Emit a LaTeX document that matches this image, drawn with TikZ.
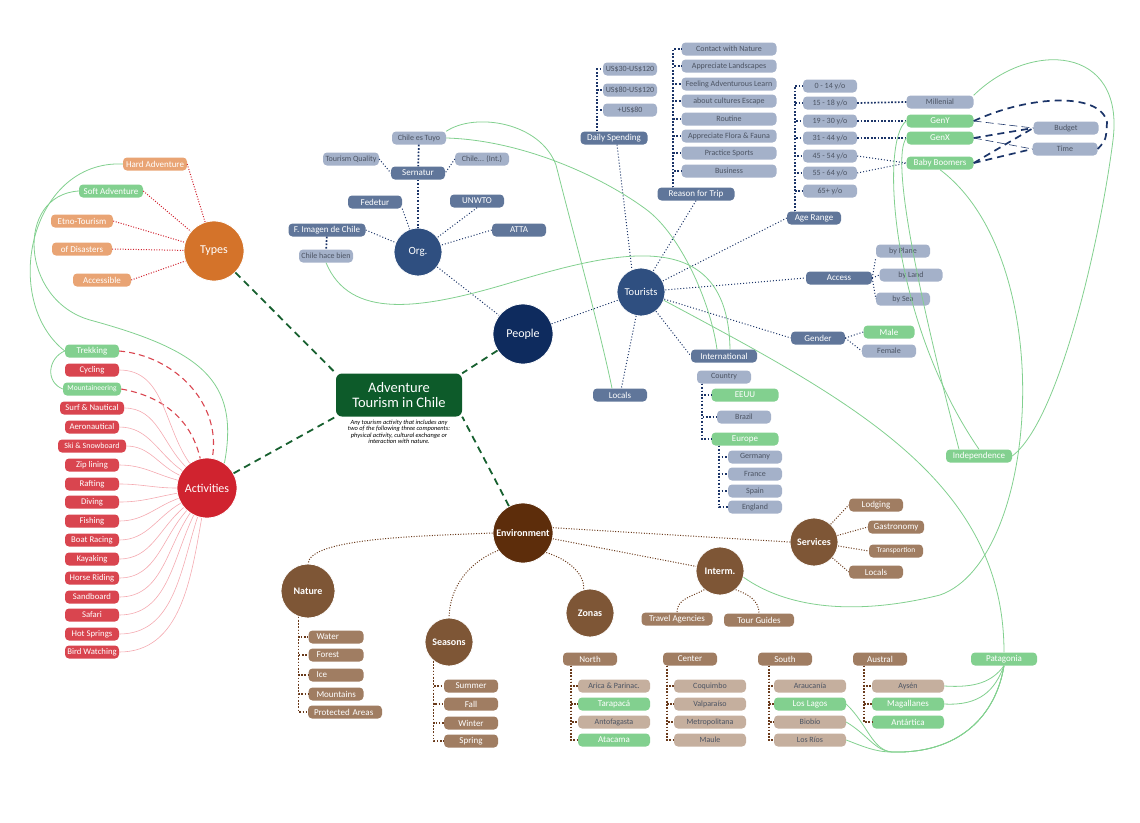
\documentclass[tikz,border=0pt]{standalone}
\usepackage{fontspec}
\setmainfont{Carlito}
\usetikzlibrary{positioning}
\definecolor{forest}{HTML}{0D5B2A}
\definecolor{trunkc}{HTML}{17602F}
\definecolor{tangerine}{HTML}{D4732A}
\definecolor{apricot}{HTML}{E9A474}
\definecolor{leaf}{HTML}{82D08F}
\definecolor{crimson}{HTML}{D0232F}
\definecolor{rose}{HTML}{D9454F}
\definecolor{blush}{HTML}{F4AAB1}
\definecolor{steel}{HTML}{2F4F80}
\definecolor{midnight}{HTML}{0E2B5E}
\definecolor{slate}{HTML}{60769A}
\definecolor{mist}{HTML}{A4B1C9}
\definecolor{navy}{HTML}{1B3468}
\definecolor{ink}{HTML}{4C5463}
\definecolor{umber}{HTML}{5D2D0B}
\definecolor{cocoa}{HTML}{7E5636}
\definecolor{bark}{HTML}{A07D62}
\definecolor{sand}{HTML}{C5AF9E}
\definecolor{mud}{HTML}{6A3A1B}
\newcommand{\fsz}[1]{\fontsize{#1}{#1}\selectfont}
\tikzset{
  hub/.style  ={circle, draw=white, line width=.8pt, text=white, inner sep=0pt, font=\fsz{12}},
  pill/.style ={rounded corners=4pt, minimum width=54pt, minimum height=13pt, inner sep=1pt, text=white, font=\fsz{9}},
  pmid/.style ={pill, fill=slate},
  plite/.style={pill, fill=mist, text=ink, font=\fsz{8}},
  pleaf/.style={pill, fill=leaf},
  papr/.style ={pill, fill=apricot},
  prose/.style={pill, fill=rose, font=\fsz{8.7}},
  pbark/.style={pill, fill=bark},
  pbl/.style  ={pbark, align=left, inner xsep=8pt, text width=39pt},
  psand/.style={pill, fill=sand, text=ink, font=\fsz{8}, minimum width=72pt},
  core/.style ={rounded corners=6pt, fill=forest, text=white, minimum width=126pt, minimum height=43pt, align=center, font=\fsz{14.5}},
  desc/.style ={align=center, font=\fsz{6.4}\itshape, inner sep=0pt, text=black},
  trunk/.style={draw=trunkc, line width=1.8pt, dash pattern=on 7pt off 5pt},
  dn/.style   ={draw=navy, line width=1pt, dash pattern=on 1pt off 2pt},
  dnb/.style  ={draw=navy, line width=1.7pt, dash pattern=on 1.7pt off 1.7pt},
  dr/.style   ={draw=crimson, line width=1pt, dash pattern=on 1pt off 1.6pt},
  lr/.style   ={draw=blush, line width=.6pt},
  lrd/.style  ={draw=rose, line width=1.1pt, dash pattern=on 6pt off 4pt},
  db/.style   ={draw=mud, line width=1pt, dash pattern=on 1pt off 1.6pt},
  dbb/.style  ={draw=mud, line width=1.6pt, dash pattern=on 1.6pt off 1.6pt},
  gl/.style   ={draw=leaf, line width=.8pt},
  ldb/.style  ={draw=navy, line width=1.7pt, dash pattern=on 7pt off 5pt},
  ldt/.style  ={draw=navy, line width=.6pt, dash pattern=on 8pt off 4pt},
}

\begin{document}
\begin{tikzpicture}[x=1pt,y=-1pt]
  \useasboundingbox (0,0) rectangle (1140,822);

  % centre
  \node[core] (core) at (399,395) {Adventure\\Tourism in Chile};
  \node[desc,below=3pt of core] (desc) {Any tourism activity that includes any\\ two of the following three components:\\ physical activity, cultural exchange or\\ interaction with nature.};

  % hubs
  \node[hub,fill=tangerine,minimum size=60pt] (types) at (214,251) {Types};
  \node[hub,fill=crimson,minimum size=60pt] (act) at (207,488) {Activities};
  \node[hub,fill=steel,minimum size=48pt,font=\fsz{11}] (org) at (418,252) {Org.};
  \node[hub,fill=midnight,minimum size=60pt] (ppl) at (523,334) {People};
  \node[hub,fill=steel,minimum size=48pt,font=\fsz{10.5}] (tour) at (641,292) {Tourists};
  \node[hub,fill=umber,minimum size=60pt,font=\fsz{10}\bfseries] (env) at (523,533) {Environment};
  \node[hub,fill=cocoa,minimum size=54pt,font=\fsz{10}\bfseries] (nat) at (308,591) {Nature};
  \node[hub,fill=cocoa,minimum size=48pt,font=\fsz{10}\bfseries] (sea) at (449,642) {Seasons};
  \node[hub,fill=cocoa,minimum size=48pt,font=\fsz{10}\bfseries] (zon) at (590,613) {Zonas};
  \node[hub,fill=cocoa,minimum size=48pt,font=\fsz{10}\bfseries] (itm) at (720,571) {Interm.};
  \node[hub,fill=cocoa,minimum size=48pt,font=\fsz{10}\bfseries] (svc) at (814,542) {Services};

  \draw[trunk] (types) -- (core.north west);
  \draw[trunk] (act) -- (core.south west);
  \draw[trunk] (ppl) -- (core.north east);
  \draw[trunk] (env) -- (core.south east);

  % types
  \node[papr,minimum width=64pt] (hard) at (155,164) {Hard Adventure};
  \node[pleaf,minimum width=64pt] (soft) at (111,191) {Soft Adventure};
  \node[papr,minimum width=62pt] (etno) at (82,221) {Etno-Tourism};
  \node[papr,minimum width=60pt] (disa) at (82,249) {of Disasters};
  \node[papr,minimum width=58pt] (acce) at (102,280) {Accessible};
  \draw[dr] (hard.east) -- (types);
  \draw[dr] (soft.east) -- (types);
  \draw[dr] (etno.east) -- (types);
  \draw[dr] (disa.east) -- (types);
  \draw[dr] (acce.east) -- (types);

  % activities
  \node[pleaf] (trek) at (92,351) {Trekking};
  \node[prose] (cycl) at (92,370) {Cycling};
  \node[pleaf,minimum width=58pt,font=\fsz{7.5}] (mnt) at (92,389) {Mountaineering};
  \node[prose,minimum width=64pt] (surf) at (92,408) {Surf \& Nautical};
  \node[prose] (aero) at (92,427) {Aeronautical};
  \node[prose,minimum width=68pt,font=\fsz{8}] (ski) at (92,446) {Ski \& Snowboard};
  \node[prose] (zip) at (92,465) {Zip lining};
  \node[prose] (raft) at (92,484) {Rafting};
  \node[prose] (dive) at (92,502) {Diving};
  \node[prose] (fish) at (92,521) {Fishing};
  \node[prose] (boat) at (92,540) {Boat Racing};
  \node[prose] (kaya) at (92,559) {Kayaking};
  \node[prose] (hors) at (92,578) {Horse Riding};
  \node[prose] (sand) at (92,597) {Sandboard};
  \node[prose] (safa) at (92,615) {Safari};
  \node[prose] (hots) at (92,634) {Hot Springs};
  \node[prose] (bird) at (92,652) {Bird Watching};
  \draw[lrd] (trek.east) to[out=-5,in=80] (act);
  \draw[lrd] (mnt.east) to[out=-10,in=103] (act);
  \draw[lr] (cycl.east) to[out=0,in=125] (act);
  \draw[lr] (surf.east) to[out=0,in=135] (act);
  \draw[lr] (aero.east) to[out=0,in=145] (act);
  \draw[lr] (ski.east) to[out=0,in=155] (act);
  \draw[lr] (zip.east) to[out=0,in=165] (act);
  \draw[lr] (raft.east) to[out=0,in=180] (act);
  \draw[lr] (dive.east) to[out=0,in=190] (act);
  \draw[lr] (fish.east) to[out=0,in=200] (act);
  \draw[lr] (boat.east) to[out=0,in=210] (act);
  \draw[lr] (kaya.east) to[out=0,in=220] (act);
  \draw[lr] (hors.east) to[out=0,in=228] (act);
  \draw[lr] (sand.east) to[out=0,in=236] (act);
  \draw[lr] (safa.east) to[out=0,in=244] (act);
  \draw[lr] (hots.east) to[out=0,in=252] (act);
  \draw[lr] (bird.east) to[out=0,in=260] (act);

  % organisations
  \node[plite] (ctuy) at (419,138) {Chile es Tuyo};
  \node[plite,minimum width=56pt] (tq) at (351,159) {Tourism Quality};
  \node[pmid] (sern) at (418,173) {Sernatur};
  \node[plite] (cint) at (482,159) {Chile... (Int.)};
  \node[pmid] (fede) at (375,202) {Fedetur};
  \node[pmid] (unw) at (477,201) {UNWTO};
  \node[pmid,minimum width=77pt] (fimg) at (327,230) {F. Imagen de Chile};
  \node[pmid] (atta) at (519,230) {ATTA};
  \node[plite] (hace) at (326,256) {Chile hace bien};
  \draw[dnb] (sern) -- (org);
  \draw[dnb] (ctuy) -- (sern);
  \draw[dn] (tq.east) -- (sern.west);
  \draw[dn] (cint.west) -- (sern.east);
  \draw[dn] (fede.south east) -- (org);
  \draw[dn] (unw.south) -- (org);
  \draw[dn] (fimg.east) -- (org);
  \draw[dn] (atta.west) -- (org);
  \draw[dnb] (fimg) -- (hace);
  \draw[dn] (org) -- (ppl);
  \draw[dn] (ppl) -- (tour);

  % tourists
  \node[pmid,minimum width=67pt] (dsp) at (614,138) {Daily Spending};
  \node[plite] (us1) at (630,69) {US\$30-US\$120};
  \node[plite] (us2) at (630,90) {US\$80-US\$120};
  \node[plite] (us3) at (630,110) {+US\$80};
  \draw[dnb] ([xshift=17pt]dsp.north west) |- (us1.west);
  \draw[dnb] ([xshift=17pt]dsp.north west) |- (us2.west);
  \draw[dnb] ([xshift=17pt]dsp.north west) |- (us3.west);
  \draw[dn] ([xshift=3pt]dsp.south) -- (tour.112);

  \node[pmid,minimum width=77pt] (rft) at (696,194) {Reason for Trip};
  \node[plite,minimum width=95pt] (r1) at (729,49) {Contact with Nature};
  \node[plite,minimum width=95pt] (r2) at (729,66) {Appreciate Landscapes};
  \node[plite,minimum width=95pt] (r3) at (729,84) {Feeling Adventurous Learn};
  \node[plite,minimum width=95pt] (r4) at (729,101) {about cultures Escape};
  \node[plite,minimum width=95pt] (r5) at (729,119) {Routine};
  \node[plite,minimum width=95pt] (r6) at (729,136) {Appreciate Flora \& Fauna};
  \node[plite,minimum width=95pt] (r7) at (729,153) {Practice Sports};
  \node[plite,minimum width=95pt] (r8) at (729,171) {Business};
  \draw[dnb] ([xshift=16pt]rft.north west) |- (r1.west);
  \draw[dnb] ([xshift=16pt]rft.north west) |- (r2.west);
  \draw[dnb] ([xshift=16pt]rft.north west) |- (r3.west);
  \draw[dnb] ([xshift=16pt]rft.north west) |- (r4.west);
  \draw[dnb] ([xshift=16pt]rft.north west) |- (r5.west);
  \draw[dnb] ([xshift=16pt]rft.north west) |- (r6.west);
  \draw[dnb] ([xshift=16pt]rft.north west) |- (r7.west);
  \draw[dnb] ([xshift=16pt]rft.north west) |- (r8.west);
  \draw[dn] (rft.south) -- (tour.60);

  \node[pmid] (age) at (814,218) {Age Range};
  \node[plite] (a1) at (830,86) {0 - 14 y/o};
  \node[plite] (a2) at (830,103) {15 - 18 y/o};
  \node[plite] (a3) at (830,121) {19 - 30 y/o};
  \node[plite] (a4) at (830,138) {31 - 44 y/o};
  \node[plite] (a5) at (830,156) {45 - 54 y/o};
  \node[plite] (a6) at (830,173) {55 - 64 y/o};
  \node[plite] (a7) at (830,191) {65+ y/o};
  \draw[dnb] ([xshift=8pt]age.north west) |- (a1.west);
  \draw[dnb] ([xshift=8pt]age.north west) |- (a2.west);
  \draw[dnb] ([xshift=8pt]age.north west) |- (a3.west);
  \draw[dnb] ([xshift=8pt]age.north west) |- (a4.west);
  \draw[dnb] ([xshift=8pt]age.north west) |- (a5.west);
  \draw[dnb] ([xshift=8pt]age.north west) |- (a6.west);
  \draw[dnb] ([xshift=8pt]age.north west) |- (a7.west);
  \draw[dn] (age.west) -- (tour);

  \node[plite,minimum width=67pt] (mill) at (940,102) {Millenial};
  \node[pleaf,minimum width=67pt] (geny) at (940,121) {GenY};
  \node[pleaf,minimum width=67pt] (genx) at (940,138) {GenX};
  \node[pleaf,minimum width=67pt] (boom) at (940,163) {Baby Boomers};
  \draw[dnb] (a2.east) -- (mill.west);
  \draw[dnb] (a3.east) -- (geny.west);
  \draw[dnb] (a4.east) -- (genx.west);
  \draw[dn] (a5.east) -- (boom.west);
  \draw[dn] (a6.east) -- (boom.west);

  \node[plite,minimum width=65pt] (bud) at (1066,128) {Budget};
  \node[plite,minimum width=65pt] (tim) at (1065,149) {Time};
  \draw[ldt] (geny.east) -- (bud.west);
  \draw[ldb] (geny.east) .. controls (1030,95) and (1100,92) .. (1107,122) .. controls (1106,140) .. (tim.east);
  \draw[ldb] (genx.east) -- (bud.west);
  \draw[ldt] (genx.east) -- (tim.west);
  \draw[ldb] (boom.east) -- (bud.west);
  \draw[ldb] (boom.east) -- (tim.west);

  \node[pmid,minimum width=66pt] (acc) at (839,278) {Access};
  \node[plite] (pln) at (903,251) {by Plane};
  \node[plite,minimum width=63pt] (lnd) at (911,275) {by Land};
  \node[plite] (bsea) at (903,299) {by Sea};
  \draw[dn] (tour) -- (acc.west);
  \draw[dn] (acc.east) -- (pln.south west);
  \draw[dn] (acc.east) -- (lnd.west);
  \draw[dn] (acc.east) -- (bsea.west);

  \node[pmid] (gen) at (818,338) {Gender};
  \node[pleaf,minimum width=51pt] (male) at (889,332) {Male};
  \node[plite] (fem) at (889,351) {Female};
  \draw[dn] (tour) -- (gen.west);
  \draw[dn] (gen.east) -- (male.west);
  \draw[dn] (gen.east) -- (fem.west);

  \node[pmid,minimum width=66pt] (intl) at (724,356) {International};
  \node[pmid] (loc) at (620,395) {Locals};
  \draw[dn] (tour) -- (intl.west);
  \draw[dn] (tour) -- (loc);

  \node[plite] (ctry) at (724,377) {Country};
  \node[pleaf,minimum width=67pt] (eeuu) at (745,395) {EEUU};
  \node[plite] (braz) at (744,417) {Brazil};
  \node[pleaf,minimum width=67pt] (euro) at (745,439) {Europe};
  \node[plite] (germ) at (755,457) {Germany};
  \node[plite] (fran) at (755,474) {France};
  \node[plite] (spai) at (755,491) {Spain};
  \node[plite] (engl) at (755,507) {England};
  \draw[dnb] ([xshift=5pt]ctry.south west) |- (eeuu.west);
  \draw[dnb] ([xshift=5pt]ctry.south west) |- (braz.west);
  \draw[dnb] ([xshift=5pt]ctry.south west) |- (euro.west);
  \draw[dnb] ([xshift=8pt]euro.south west) |- (germ.west);
  \draw[dnb] ([xshift=8pt]euro.south west) |- (fran.west);
  \draw[dnb] ([xshift=8pt]euro.south west) |- (spai.west);
  \draw[dnb] ([xshift=8pt]euro.south west) |- (engl.west);

  % environment
  \draw[db] (env.west) .. controls (420,536) and (310,538) .. (nat.north);
  \draw[db] (env.215) .. controls (470,562) and (450,585) .. (sea.north);
  \draw[db] (env.-40) .. controls (570,560) and (585,575) .. (zon.105);
  \draw[db] (env) -- (itm);
  \draw[db] (env.10) -- (svc.west);

  \node[pbark] (lodg) at (876,505) {Lodging};
  \node[pbark,minimum width=56pt] (gast) at (896,527) {Gastronomy};
  \node[pbark,font=\fsz{7.5}] (trans) at (896,551) {Transportion};
  \node[pbark] (loc2) at (876,572) {Locals};
  \draw[db] (svc) -- (lodg.west);
  \draw[db] (svc) -- (gast.west);
  \draw[db] (svc) -- (trans.west);
  \draw[db] (svc) -- (loc2.west);

  \node[pbark,minimum width=71pt] (tra) at (677,619) {Travel Agencies};
  \node[pbark,minimum width=70pt] (tgd) at (759,620) {Tour Guides};
  \draw[db] (itm.230) to[out=210,in=90] (tra.north);
  \draw[db] (itm.-50) to[out=-20,in=90] (tgd.north);

  \node[pbl] (wat) at (336,637) {Water};
  \node[pbl] (fore) at (336,655) {Forest};
  \node[pbl] (ice) at (336,675) {Ice};
  \node[pbl] (mtn) at (336,694) {Mountains};
  \node[pbl,inner xsep=6pt,text width=62pt] (prot) at (345,712) {Protected Areas};
  \draw[dbb] (nat.-110) |- (wat.west);
  \draw[dbb] (nat.-110) |- (fore.west);
  \draw[dbb] (nat.-110) |- (ice.west);
  \draw[dbb] (nat.-110) |- (mtn.west);
  \draw[dbb] (nat.-110) |- (prot.west);

  \node[pbark] (sum) at (471,686) {Summer};
  \node[pbark] (fall) at (471,704) {Fall};
  \node[pbark] (win) at (471,723) {Winter};
  \node[pbark] (spr) at (471,741) {Spring};
  \draw[dbb] (sea.-129) |- (sum.west);
  \draw[dbb] (sea.-129) |- (fall.west);
  \draw[dbb] (sea.-129) |- (win.west);
  \draw[dbb] (sea.-129) |- (spr.west);

  % zones
  \node[pbark] (nor) at (590,659) {North};
  \node[pbark] (cen) at (690,659) {Center};
  \node[pbark] (sou) at (785,659) {South};
  \node[pbark] (aus) at (880,659) {Austral};
  \node[pleaf,minimum width=66pt] (pat) at (1004,659) {Patagonia};
  \node[psand] (n1) at (614,686) {Arica \& Parinac.};
  \node[pleaf,minimum width=72pt] (n2) at (614,704) {Tarapacá};
  \node[psand] (n3) at (614,722) {Antofagasta};
  \node[pleaf,minimum width=72pt] (n4) at (614,740) {Atacama};
  \node[psand] (c1) at (710,686) {Coquimbo};
  \node[psand] (c2) at (710,704) {Valparaíso};
  \node[psand] (c3) at (710,722) {Metropolitana};
  \node[psand] (c4) at (710,740) {Maule};
  \node[psand] (s1) at (810,686) {Araucanía};
  \node[pleaf,minimum width=72pt] (s2) at (810,704) {Los Lagos};
  \node[psand] (s3) at (810,722) {Biobío};
  \node[psand] (s4) at (810,740) {Los Ríos};
  \node[psand] (au1) at (908,686) {Aysén};
  \node[pleaf,minimum width=72pt] (au2) at (908,704) {Magallanes};
  \node[pleaf,minimum width=72pt] (au3) at (908,722) {Antártica};
  \draw[dbb] ([xshift=8pt]nor.south west) |- (n1.west);
  \draw[dbb] ([xshift=8pt]nor.south west) |- (n2.west);
  \draw[dbb] ([xshift=8pt]nor.south west) |- (n3.west);
  \draw[dbb] ([xshift=8pt]nor.south west) |- (n4.west);
  \draw[dbb] ([xshift=4pt]cen.south west) |- (c1.west);
  \draw[dbb] ([xshift=4pt]cen.south west) |- (c2.west);
  \draw[dbb] ([xshift=4pt]cen.south west) |- (c3.west);
  \draw[dbb] ([xshift=4pt]cen.south west) |- (c4.west);
  \draw[dbb] ([xshift=11pt]sou.south west) |- (s1.west);
  \draw[dbb] ([xshift=11pt]sou.south west) |- (s2.west);
  \draw[dbb] ([xshift=11pt]sou.south west) |- (s3.west);
  \draw[dbb] ([xshift=11pt]sou.south west) |- (s4.west);
  \draw[dbb] ([xshift=11pt]aus.south west) |- (au1.west);
  \draw[dbb] ([xshift=11pt]aus.south west) |- (au2.west);
  \draw[dbb] ([xshift=11pt]aus.south west) |- (au3.west);

  \node[pleaf,minimum width=66pt] (indep) at (979,456) {Independence};

  % green cross links
  \draw[gl] (hard.west) .. controls (30,160) and (0,300) .. (trek.west);
  \draw[gl] (soft.west) .. controls (15,195) and (20,300) .. (90,320) .. controls (200,350) and (240,380) .. (act.55);
  \draw[gl] (trek.west) .. controls (48,358) and (45,382) .. (mnt.west);
  \draw[gl] (ctuy.north east) .. controls (475,112) and (540,122) .. (556,165) .. controls (575,240) and (600,330) .. ([xshift=-8pt]loc.north);
  \draw[gl] (ctuy.east) .. controls (520,140) and (600,175) .. (647,210) .. controls (680,235) and (710,300) .. ([xshift=-7pt]intl.north);
  \draw[gl] (hace.south) .. controls (350,320) and (420,310) .. (513,282) .. controls (620,250) and (728,225) .. ([xshift=6pt]intl.north);
  \draw[gl] (mill.north east) .. controls (1030,40) and (1125,45) .. (1113,140) .. controls (1101,235) and (1060,420) .. (indep.east);
  \draw[gl] (geny.west) .. controls (880,140) and (890,320) .. (indep.north);
  \draw[gl] (genx.west) .. controls (890,160) and (920,300) .. ([xshift=-20pt]indep.north);
  \draw[gl] (boom.south) .. controls (1060,260) and (1040,560) .. (940,595) .. controls (860,615) and (790,610) .. (itm.-15);
  \draw[gl] (tour.-20) .. controls (850,400) and (1004,480) .. (pat.north);
  \draw[gl] (au1.east) .. controls (975,688) and (992,682) .. (pat.south);
  \draw[gl] (au2.east) .. controls (980,706) and (995,690) .. (pat.south);
  \draw[gl] (s2.east) .. controls (868,725) and (872,750) .. (892,752) .. controls (960,754) and (996,715) .. (pat.south);
  \draw[gl] (s3.east) .. controls (868,735) and (875,751) .. (892,752) .. controls (960,754) and (996,715) .. (pat.south);
  \draw[gl] (s4.east) .. controls (862,746) and (875,752) .. (892,752) .. controls (960,754) and (996,715) .. (pat.south);
\end{tikzpicture}
\end{document}
